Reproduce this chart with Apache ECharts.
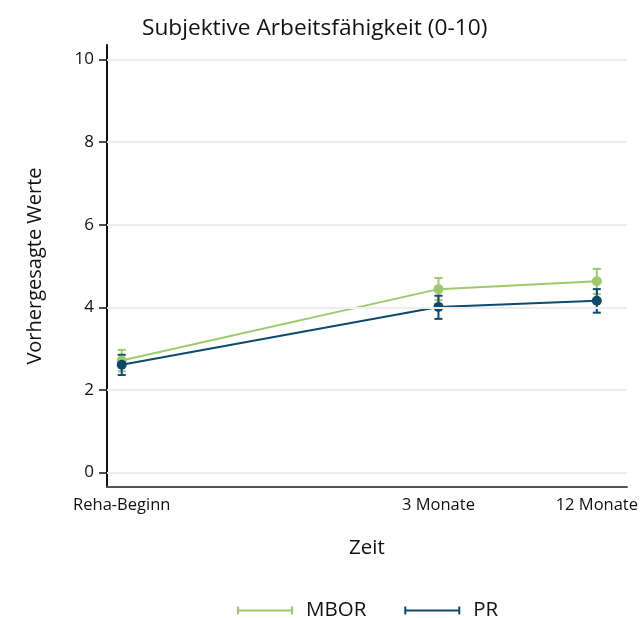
<!DOCTYPE html>
<html>
<head>
<meta charset="utf-8">
<script src="https://cdn.jsdelivr.net/npm/echarts@6/dist/echarts.min.js"></script>
<style>html,body{margin:0;padding:0;background:#fff}#chart{width:641px;height:618px}</style>
</head>
<body>
<div id="chart"></div>
<script>
// Measurement times (position on the time axis) and their labels
const timePoints = [0, 2, 3];
const timeLabels = ['Reha-Beginn', '3 Monate', '12 Monate'];
const yTicks = [0, 2, 4, 6, 8, 10];

// Predicted values with confidence limits
const mborMean = [2.71, 4.44, 4.63];
const mborLow  = [2.45, 4.17, 4.32];
const mborHigh = [2.97, 4.71, 4.93];

const prMean = [2.61, 4.01, 4.16];
const prLow  = [2.36, 3.72, 3.87];
const prHigh = [2.85, 4.28, 4.44];

const GREEN = '#9dca6b';
const BLUE = '#0c4a6e';
const FONT = '"Open Sans", "Noto Sans", sans-serif';

function pairs(ys) { return timePoints.map((x, i) => [x, ys[i]]); }
function bars(lo, hi) { return timePoints.map((x, i) => [x, lo[i], hi[i]]); }

function errorSeries(name, color, lo, hi) {
  return {
    name: name,
    type: 'custom',
    data: bars(lo, hi),
    z: 3,
    renderItem: function (params, api) {
      const x = api.value(0);
      const top = api.coord([x, api.value(2)]);
      const bot = api.coord([x, api.value(1)]);
      const w = 4;
      const style = { stroke: color, lineWidth: 2, fill: null };
      return {
        type: 'group',
        children: [
          { type: 'line', shape: { x1: top[0], y1: top[1], x2: bot[0], y2: bot[1] }, style: style },
          { type: 'line', shape: { x1: top[0] - w, y1: top[1], x2: top[0] + w, y2: top[1] }, style: style },
          { type: 'line', shape: { x1: bot[0] - w, y1: bot[1], x2: bot[0] + w, y2: bot[1] }, style: style }
        ]
      };
    }
  };
}

function lineSeries(name, color, ys) {
  return {
    name: name,
    type: 'line',
    data: pairs(ys),
    symbol: 'circle',
    symbolSize: 10,
    z: 4,
    itemStyle: { color: color },
    lineStyle: { color: color, width: 2 },
    emphasis: { disabled: true }
  };
}

// Horizontal grid lines at the labelled y values
const gridLines = {
  silent: true,
  symbol: 'none',
  label: { show: false },
  lineStyle: { color: '#ededed', width: 2, type: 'solid' },
  data: yTicks.map(v => ({ yAxis: v }))
};

const legendIcon = 'path://M0,0h2v8h-2z M0,3h56v2h-56z M54,0h2v8h-2z';

const chart = echarts.init(document.getElementById('chart'), null, { renderer: 'canvas' });
const mborErr = errorSeries('MBOR', GREEN, mborLow, mborHigh);
mborErr.markLine = gridLines;
chart.setOption({
  animation: false,
  backgroundColor: '#fff',
  title: {
    text: 'Subjektive Arbeitsfähigkeit (0-10)',
    left: 137, top: 12,
    textStyle: { fontFamily: FONT, fontSize: 22.7, fontWeight: 'normal', color: '#111' }
  },
  legend: {
    top: 595, left: 232, itemGap: 38, itemWidth: 56, itemHeight: 8,
    data: [
      { name: 'MBOR', icon: legendIcon, itemStyle: { color: GREEN } },
      { name: 'PR', icon: legendIcon, itemStyle: { color: BLUE } }
    ],
    textStyle: { fontFamily: FONT, fontSize: 20.5, color: '#111', padding: [0, 0, 0, 8] }
  },
  grid: { left: 107, right: 13, top: 45, bottom: 131, containLabel: false },
  xAxis: {
    type: 'value',
    min: -0.093, max: 3.19,
    name: 'Zeit', nameLocation: 'middle', nameGap: 51,
    nameTextStyle: { fontFamily: FONT, fontSize: 20.5, color: '#111' },
    axisLine: { show: true, onZero: false, lineStyle: { color: '#555', width: 2 } },
    axisTick: { show: false },
    splitLine: { show: false },
    axisLabel: {
      customValues: timePoints,
      formatter: function (v) { return timeLabels[timePoints.indexOf(v)]; },
      fontFamily: FONT, fontSize: 16.5, color: '#111', margin: 10
    }
  },
  yAxis: {
    type: 'value',
    min: -0.35, max: 10.35,
    name: 'Vorhergesagte Werte', nameLocation: 'middle', nameGap: 62,
    nameTextStyle: { fontFamily: FONT, fontSize: 20, color: '#111' },
    axisLine: { show: true, onZero: false, lineStyle: { color: '#111', width: 2 } },
    axisTick: { show: true, customValues: yTicks, length: 8, lineStyle: { color: '#111', width: 1.5 } },
    axisLabel: { customValues: yTicks, fontFamily: FONT, fontSize: 17, color: '#111', margin: 13 },
    splitLine: { show: false }
  },
  series: [
    mborErr,
    errorSeries('PR', BLUE, prLow, prHigh),
    lineSeries('MBOR', GREEN, mborMean),
    lineSeries('PR', BLUE, prMean)
  ]
});
</script>
</body>
</html>
